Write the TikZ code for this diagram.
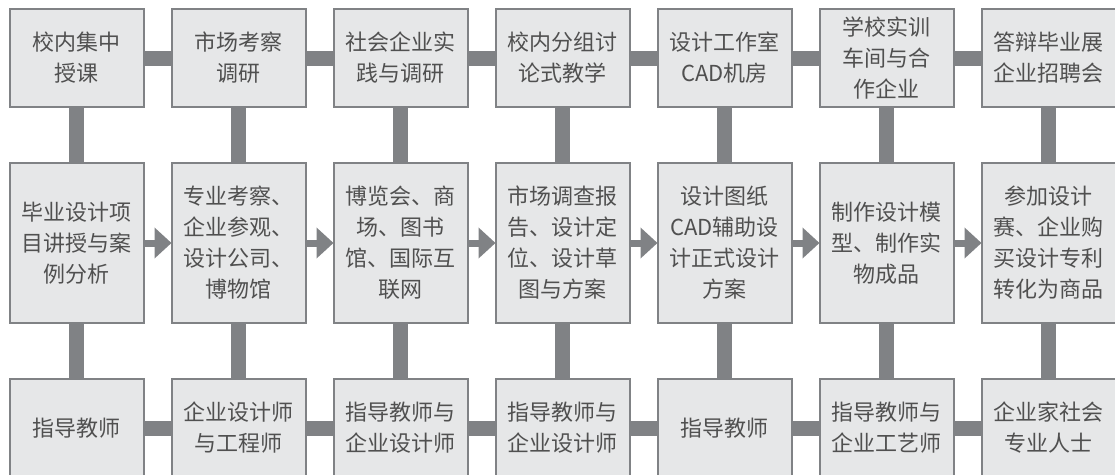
\documentclass[tikz,border=0pt]{standalone}
\usepackage{fontspec}
\setmainfont{Noto Sans CJK SC}
\usetikzlibrary{positioning,arrows.meta}
\definecolor{boxfill}{HTML}{E6E7E8}
\definecolor{boxline}{HTML}{808285}
\definecolor{barc}{HTML}{808285}
\definecolor{txt}{HTML}{505050}

\begin{document}
\begin{tikzpicture}[x=1pt,y=1pt]
\tikzstyle{main}=[rectangle, draw=boxline, line width=2pt, fill=boxfill, minimum width=134pt, inner sep=0pt, outer sep=0pt, align=center, text=txt, font=\fontsize{22}{31}\selectfont, node distance=56pt and 28pt]
\tikzstyle{low}=[main, minimum height=98pt]
\tikzstyle{high}=[main, minimum height=160pt]
\tikzstyle{bar}=[line width=15pt, draw=barc]
\tikzstyle{connect}=[-{Triangle[length=17pt,width=30pt]}, line width=7pt, draw=barc]
  \useasboundingbox (0,0) rectangle (1115,-474);
  % top row: places
  \node[low] (t1) at (76.5,-58) {校内集中\\授课};
  \node[low] (t2) [right=of t1] {市场考察\\调研};
  \node[low] (t3) [right=of t2] {社会企业实\\践与调研};
  \node[low] (t4) [right=of t3] {校内分组讨\\论式教学};
  \node[low] (t5) [right=of t4] {设计工作室\\CAD机房};
  \node[low] (t6) [right=of t5] {学校实训\\车间与合\\作企业};
  \node[low] (t7) [right=of t6] {答辩毕业展\\企业招聘会};
  % middle row: stages
  \node[high] (m1) [below=of t1] {毕业设计项\\目讲授与案\\例分析};
  \node[high] (m2) [below=of t2] {专业考察、\\企业参观、\\设计公司、\\博物馆};
  \node[high] (m3) [below=of t3] {博览会、商\\场、图书\\馆、国际互\\联网};
  \node[high] (m4) [below=of t4] {市场调查报\\告、设计定\\位、设计草\\图与方案};
  \node[high] (m5) [below=of t5] {设计图纸\\CAD辅助设\\计正式设计\\方案};
  \node[high] (m6) [below=of t6] {制作设计模\\型、制作实\\物成品};
  \node[high] (m7) [below=of t7] {参加设计\\赛、企业购\\买设计专利\\转化为商品};
  % bottom row: teachers
  \node[low] (b1) [below=of m1] {指导教师};
  \node[low] (b2) [below=of m2] {企业设计师\\与工程师};
  \node[low] (b3) [below=of m3] {指导教师与\\企业设计师};
  \node[low] (b4) [below=of m4] {指导教师与\\企业设计师};
  \node[low] (b5) [below=of m5] {指导教师};
  \node[low] (b6) [below=of m6] {指导教师与\\企业工艺师};
  \node[low] (b7) [below=of m7] {企业家社会\\专业人士};
  \path (t1) edge [bar] (t2) (t2) edge [bar] (t3) (t3) edge [bar] (t4)
        (t4) edge [bar] (t5) (t5) edge [bar] (t6) (t6) edge [bar] (t7);
  \path (b1) edge [bar] (b2) (b2) edge [bar] (b3) (b3) edge [bar] (b4)
        (b4) edge [bar] (b5) (b5) edge [bar] (b6) (b6) edge [bar] (b7);
  \path (t1) edge [bar] (m1) (t2) edge [bar] (m2) (t3) edge [bar] (m3)
        (t4) edge [bar] (m4) (t5) edge [bar] (m5) (t6) edge [bar] (m6)
        (t7) edge [bar] (m7);
  \path (m1) edge [bar] (b1) (m2) edge [bar] (b2) (m3) edge [bar] (b3)
        (m4) edge [bar] (b4) (m5) edge [bar] (b5) (m6) edge [bar] (b6)
        (m7) edge [bar] (b7);
  \path (m1) edge [connect] (m2) (m2) edge [connect] (m3) (m3) edge [connect] (m4)
        (m4) edge [connect] (m5) (m5) edge [connect] (m6) (m6) edge [connect] (m7);
\end{tikzpicture}
\end{document}
